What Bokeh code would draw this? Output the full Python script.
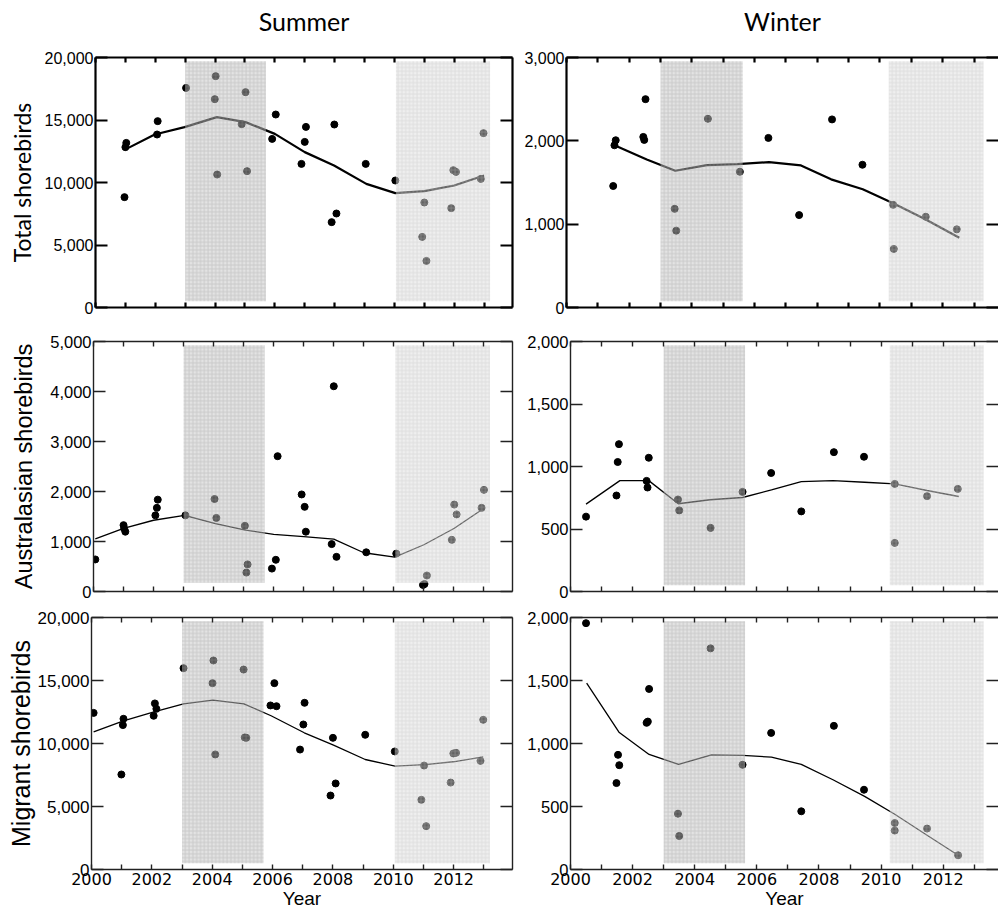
from bokeh.plotting import figure
from bokeh.layouts import column, row
from bokeh.models import Range1d, LinearAxis, FixedTicker, NumeralTickFormatter
from bokeh.embed import file_html
from bokeh.resources import INLINE

# ---------------- data ----------------
years = list(range(2000, 2015))
summer_shade = [(2003.0, 2005.7), (2010.05, 2013.2)]
winter_shade = [(2003.0, 2005.62), (2010.28, 2013.3)]

# Total shorebirds - Summer
tot_s_x = [2000.97, 2001.0, 2001.03, 2002.06, 2002.08, 2003.03, 2004.02, 2003.99, 2004.07, 2005.02,
           2004.89, 2005.07, 2005.91, 2006.03, 2006.89, 2007.0, 2007.04, 2007.9, 2007.99, 2008.06,
           2009.04, 2010.03, 2011.0, 2010.93, 2011.07, 2011.9, 2011.97, 2012.06, 2012.98, 2012.89]
tot_s_y = [8830, 12830, 13170, 13840, 14910, 17570, 18510, 16670, 10640, 17230,
           14670, 10910, 13490, 15440, 11490, 13250, 14450, 6830, 14640, 7520,
           11490, 10160, 8400, 5650, 3730, 7950, 10990, 10850, 13950, 10290]
tot_s_tx = [2000.97, 2001.98, 2002.98, 2004.06, 2005.02, 2006.0, 2007.0, 2007.98, 2009.06, 2010.03, 2011.0, 2012.0, 2013.0]
tot_s_ty = [12610, 13840, 14430, 15230, 14830, 13890, 12430, 11360, 9890, 9150, 9310, 9760, 10560]

# Total shorebirds - Winter
tot_w_x = [2001.49, 2001.53, 2001.57, 2002.52, 2002.45, 2002.48, 2003.45, 2003.5, 2004.51, 2005.53,
           2006.44, 2007.42, 2008.47, 2009.44, 2010.42, 2010.44, 2011.46, 2012.45]
tot_w_y = [1458, 1947, 2007, 2500, 2047, 2011, 1184, 922, 2265, 1629,
           2035, 1109, 2257, 1713, 1232, 703, 1089, 938]
tot_w_tx = [2001.53, 2002.56, 2003.47, 2004.48, 2005.45, 2006.46, 2007.48, 2008.44, 2009.45, 2010.42, 2011.43, 2012.53]
tot_w_ty = [1947, 1776, 1641, 1709, 1721, 1745, 1705, 1538, 1419, 1252, 1061, 838]

# Australasian shorebirds - Summer
aus_s_x = [2000.06, 2001.0, 2001.02, 2001.06, 2002.06, 2002.11, 2002.14, 2003.06, 2004.03, 2004.09,
           2005.04, 2005.13, 2005.09, 2005.94, 2006.07, 2006.13, 2006.93, 2007.03, 2007.07, 2008.0,
           2007.93, 2008.09, 2009.08, 2010.08, 2010.97, 2011.02, 2011.1, 2011.93, 2012.01, 2012.09,
           2012.92, 2013.0]
aus_s_y = [641, 1327, 1261, 1196, 1523, 1673, 1837, 1523, 1850, 1471,
           1314, 542, 379, 458, 634, 2706, 1941, 1693, 1196, 4105,
           948, 693, 784, 758, 131, 150, 320, 1033, 1739, 1542,
           1673, 2033]
aus_s_tx = [2000.06, 2001.0, 2002.0, 2003.03, 2004.06, 2005.06, 2006.0, 2007.0, 2008.0, 2009.0, 2010.03, 2011.0, 2012.0, 2012.94]
aus_s_ty = [1052, 1261, 1425, 1523, 1359, 1229, 1144, 1098, 1046, 775, 686, 935, 1261, 1641]

# Australasian shorebirds - Winter
aus_w_x = [2000.5, 2001.48, 2001.52, 2001.56, 2002.45, 2002.48, 2002.52, 2003.46, 2003.5, 2004.51,
           2005.54, 2006.46, 2007.43, 2008.48, 2009.45, 2010.44, 2010.44, 2011.48, 2012.47]
aus_w_y = [599, 768, 1036, 1179, 885, 832, 1070, 736, 649, 509,
           797, 948, 641, 1115, 1078, 861, 389, 763, 821]
aus_w_tx = [2000.5, 2001.59, 2002.52, 2003.47, 2004.49, 2005.54, 2006.47, 2007.43, 2008.45, 2009.47, 2010.44, 2011.48, 2012.5]
aus_w_ty = [699, 887, 887, 702, 734, 752, 813, 879, 887, 874, 861, 808, 760]

# Migrant shorebirds - Summer
mig_s_x = [2000.07, 2000.99, 2001.04, 2001.06, 2002.06, 2002.1, 2002.15, 2003.05, 2004.04, 2004.01,
           2004.1, 2005.04, 2005.08, 2005.13, 2005.93, 2006.06, 2006.13, 2006.91, 2007.02, 2007.06,
           2007.92, 2008.0, 2008.09, 2009.07, 2010.05, 2010.93, 2011.02, 2011.09, 2011.9, 2011.99,
           2012.08, 2012.89, 2012.98]
mig_s_y = [12430, 7540, 11460, 11960, 12200, 13180, 12750, 15980, 16590, 14790,
           9130, 15870, 10480, 10450, 13020, 14790, 12960, 9520, 11510, 13230,
           5870, 10450, 6830, 10690, 9370, 5530, 8250, 3440, 6900, 9210,
           9260, 8620, 11880]
mig_s_tx = [2000.07, 2001.06, 2002.07, 2003.05, 2004.02, 2005.05, 2005.95, 2007.05, 2008.02, 2009.07, 2010.06, 2011.05, 2011.99, 2012.98]
mig_s_ty = [10930, 11800, 12510, 13150, 13440, 13150, 12200, 10850, 9870, 8730, 8200, 8330, 8550, 8940]

# Migrant shorebirds - Winter
mig_w_x = [2000.5, 2001.48, 2001.53, 2001.57, 2002.45, 2002.49, 2002.53, 2003.46, 2003.5, 2004.51,
           2005.54, 2006.46, 2007.43, 2008.48, 2009.45, 2010.44, 2010.44, 2011.48, 2012.48]
mig_w_y = [1955, 686, 910, 828, 1164, 1174, 1433, 443, 266, 1755,
           831, 1084, 462, 1140, 633, 369, 309, 325, 113]
mig_w_tx = [2000.52, 2001.56, 2002.53, 2003.48, 2004.54, 2005.54, 2006.47, 2007.43, 2008.45, 2009.47, 2010.44, 2011.48, 2012.48]
mig_w_ty = [1480, 1090, 913, 834, 910, 905, 892, 834, 712, 580, 438, 272, 113]

row_labels = ["Total shorebirds", "Australasian shorebirds", "Migrant shorebirds"]
col_titles = ["Summer", "Winter"]

ARIAL = "Liberation Sans"


def blank(ticks):
    return {t: "" for t in ticks}


def panel(w, h, bl, br, bt, bb, xr, ymax, ystep, xs, ys, txs, tys, shades,
          lw, frame_w, frame_c, yfont, ysize, ylabel=None, ylfont=None, ylsize=None,
          ylstand=0, title=None, xlabels=False, right_line=True, lo=0.025, hi=0.985):
    p = figure(width=w, height=h, x_range=Range1d(*xr), y_range=Range1d(0, ymax),
               output_backend="svg", toolbar_location=None,
               min_border_left=bl, min_border_right=br, min_border_top=bt, min_border_bottom=bb,
               x_axis_location=None, y_axis_location=None)
    p.grid.visible = False
    p.outline_line_color = None
    p.background_fill_color = "white"
    p.border_fill_color = "white"

    yt = list(range(0, ymax + 1, ystep))
    xt = years

    # left axis
    la = LinearAxis(ticker=FixedTicker(ticks=yt), formatter=NumeralTickFormatter(format="0,0"),
                    major_tick_in=12, major_tick_out=0, minor_tick_in=0, minor_tick_out=0,
                    axis_line_width=frame_w, axis_line_color=frame_c,
                    major_tick_line_width=frame_w, major_tick_line_color=frame_c,
                    major_label_standoff=2, major_label_text_font=yfont,
                    major_label_text_font_size=ysize, major_label_text_color="black")
    if ylabel:
        la.axis_label = ylabel
        la.axis_label_text_font = ylfont
        la.axis_label_text_font_size = ylsize
        la.axis_label_text_font_style = "normal"
        la.axis_label_text_color = "black"
        la.axis_label_standoff = ylstand
    p.add_layout(la, "left")

    # right axis
    ra = LinearAxis(ticker=FixedTicker(ticks=yt), major_label_overrides=blank(yt),
                    major_tick_in=12, major_tick_out=0, minor_tick_in=0, minor_tick_out=0,
                    axis_line_width=frame_w, axis_line_color=frame_c if right_line else None,
                    major_tick_line_width=frame_w, major_tick_line_color=frame_c,
                    major_label_standoff=0, major_label_text_font_size="1px")
    p.add_layout(ra, "right")

    # top axis (its label carries the column title)
    ta = LinearAxis(ticker=FixedTicker(ticks=xt), major_label_overrides=blank(xt),
                    major_tick_in=5, major_tick_out=0, minor_tick_in=0, minor_tick_out=0,
                    axis_line_width=frame_w, axis_line_color=frame_c,
                    major_tick_line_width=frame_w, major_tick_line_color=frame_c,
                    major_label_standoff=0, major_label_text_font_size="1px")
    if title:
        ta.axis_label = title
        ta.axis_label_text_font = "Lato"
        ta.axis_label_text_font_size = "25px"
        ta.axis_label_text_font_style = "normal"
        ta.axis_label_text_color = "black"
        ta.axis_label_standoff = 22
    p.add_layout(ta, "above")

    # bottom axis
    if xlabels:
        ov = {t: ("" if t % 2 else str(t)) for t in xt}
        ov[2014] = ""
        ba = LinearAxis(ticker=FixedTicker(ticks=xt), major_label_overrides=ov,
                        major_tick_in=5, major_tick_out=0, minor_tick_in=0, minor_tick_out=0,
                        axis_line_width=frame_w, axis_line_color=frame_c,
                        major_tick_line_width=frame_w, major_tick_line_color=frame_c,
                        major_label_standoff=3, major_label_text_font="DejaVu Sans",
                        major_label_text_font_size="16px", major_label_text_color="black",
                        axis_label="Year", axis_label_text_font=ARIAL,
                        axis_label_text_font_size="19px", axis_label_text_font_style="normal",
                        axis_label_standoff=0, axis_label_text_color="black")
    else:
        ba = LinearAxis(ticker=FixedTicker(ticks=xt), major_label_overrides=blank(xt),
                        major_tick_in=5, major_tick_out=0, minor_tick_in=0, minor_tick_out=0,
                        axis_line_width=frame_w, axis_line_color=frame_c,
                        major_tick_line_width=frame_w, major_tick_line_color=frame_c,
                        major_label_standoff=0, major_label_text_font_size="1px")
    p.add_layout(ba, "below")

    # trend line and observations
    p.line(txs, tys, line_color="black", line_width=lw)
    p.scatter(xs, ys, size=7, fill_color="black", line_color="black")

    # shaded periods (semi-transparent gridded overlay)
    fills = ["#c2c2c2", "#dcdcdc"]
    hcols = ["#9a9a9a", "#bdbdbd"]
    for (a, b), fc, hc in zip(shades, fills, hcols):
        p.quad(left=[a], right=[b], bottom=[ymax * lo], top=[ymax * hi],
               fill_color=fc, fill_alpha=0.45, line_color=None,
               hatch_pattern="cross", hatch_scale=3.8, hatch_color=hc,
               hatch_alpha=0.35, hatch_weight=1)
    return p


LW = 517
RW = 481
SX = (2000, 2013.95)
WX = (2000, 2013.78)

tl = panel(LW, 322, 95, 5, 57, 15, SX, 20000, 5000, tot_s_x, tot_s_y, tot_s_tx, tot_s_ty,
           summer_shade, 2.2, 2.2, "black", ARIAL, "16px",
           ylabel=row_labels[0], ylfont="Lato", ylsize="23px", ylstand=6, title=col_titles[0])
tr = panel(RW, 322, 49, 0, 57, 14, WX, 3000, 1000, tot_w_x, tot_w_y, tot_w_tx, tot_w_ty,
           winter_shade, 2.2, 2.2, "black", ARIAL, "16px", title=col_titles[1], right_line=False)
ml = panel(LW, 282, 93, 5, 14, 13, SX, 5000, 1000, aus_s_x, aus_s_y, aus_s_tx, aus_s_ty,
           summer_shade, 1.3, 1.4, "#222222", ARIAL, "16.5px",
           ylabel=row_labels[1], ylfont=ARIAL, ylsize="23.5px", ylstand=10, lo=0.035)
mr = panel(RW, 282, 53, 0, 19, 12, WX, 2000, 500, aus_w_x, aus_w_y, aus_w_tx, aus_w_ty,
           winter_shade, 1.3, 1.4, "#222222", ARIAL, "16.5px", right_line=False)
bl = panel(LW, 309, 91, 5, 13, 44, SX, 20000, 5000, mig_s_x, mig_s_y, mig_s_tx, mig_s_ty,
           summer_shade, 1.3, 1.4, "#222222", ARIAL, "17px",
           ylabel=row_labels[2], ylfont=ARIAL, ylsize="25px", ylstand=0, xlabels=True)
br = panel(RW, 309, 53, 0, 13, 44, WX, 2000, 500, mig_w_x, mig_w_y, mig_w_tx, mig_w_ty,
           winter_shade, 1.3, 1.4, "#222222", ARIAL, "16.5px", xlabels=True, right_line=False)

layout = column(row(tl, tr, spacing=0), row(ml, mr, spacing=0), row(bl, br, spacing=0), spacing=0)

open("out.html", "w").write(file_html(layout, INLINE))
